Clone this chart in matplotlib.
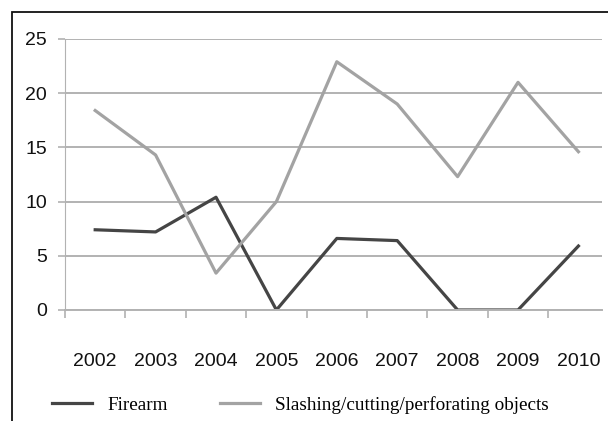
''' plot.py - firearm vs slashing objects line chart '''
import matplotlib
matplotlib.use('Agg')
import matplotlib.pyplot as plt
from matplotlib.patches import Rectangle

years = ['2002', '2003', '2004', '2005', '2006', '2007', '2008', '2009', '2010']
firearm = [7.4, 7.2, 10.4, 0, 6.6, 6.4, 0, 0, 5.9]
slashing = [18.4, 14.3, 3.4, 10.0, 22.9, 19.0, 12.3, 21.0, 14.6]
y_ticks = [0, 5, 10, 15, 20, 25]

GRID = '#b2b2b2'


def main():
    ''' draw the chart and save it '''
    fig = plt.figure(figsize=(6.08, 4.21), dpi=100)
    ax = fig.add_axes([0.1069, 0.2637, 0.8832, 0.6437])

    # outer frame, only left and top are visible in the source
    fig.patches.append(Rectangle((12 / 608, -0.1), 1.2, 1 - 12 / 421 + 0.1,
                                 transform=fig.transFigure, fill=False,
                                 edgecolor='#111111', linewidth=1.3))

    x = list(range(len(years)))
    ax.plot(x, firearm, color='#454545', linewidth=2.3, label='Firearm')
    ax.plot(x, slashing, color='#a3a3a3', linewidth=2.3,
            label='Slashing/cutting/perforating objects')

    ax.set_xlim(-0.5, 8.39)
    ax.set_ylim(0, 25)
    ax.set_yticks(y_ticks)
    ax.grid(axis='y', color=GRID, linewidth=1.4)
    ax.set_axisbelow(True)

    for side in ['top', 'right']:
        ax.spines[side].set_visible(False)
    ax.spines['left'].set_color(GRID)
    ax.spines['bottom'].set_color(GRID)
    ax.spines['bottom'].set_linewidth(1.4)

    # tick marks sit on category boundaries, labels at the centres
    ax.set_xticks([i - 0.5 for i in range(len(years))])
    ax.set_xticklabels([])
    ax.set_xticks(x, minor=True)
    ax.set_xticklabels(years, minor=True, fontfamily='Liberation Sans',
                       fontsize=14, color='#111111')
    ax.tick_params(axis='x', which='major', length=6, color=GRID, width=1.2)
    ax.tick_params(axis='x', which='minor', length=0, pad=31)
    ax.tick_params(axis='y', length=5, color=GRID, pad=8, width=1.2,
                   labelsize=14, labelcolor='#111111')
    for lbl in ax.get_yticklabels():
        lbl.set_fontfamily('Liberation Sans')

    fig.legend(loc='center left', bbox_to_anchor=(48 / 608, 1 - 405 / 421),
               ncol=2, frameon=False, handlelength=2.1, handletextpad=0.8,
               columnspacing=2.7, borderpad=0.2, borderaxespad=0,
               prop={'family': 'Liberation Serif', 'size': 13.8})

    fig.savefig('out.png', dpi=100)


if __name__ == '__main__':
    main()
